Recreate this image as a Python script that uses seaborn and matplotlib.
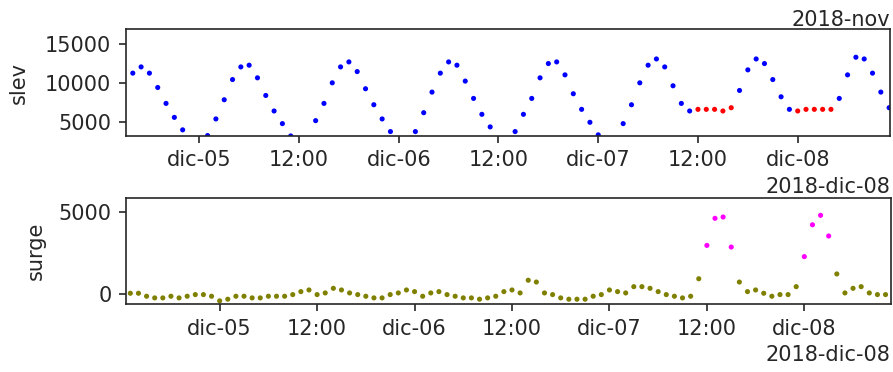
import numpy as np
import pandas as pd
import matplotlib
matplotlib.use("Agg")
import matplotlib.pyplot as plt
import seaborn as sns

# Hourly sea level (slev) and storm surge series
slev_start = "2018-12-04 16:00"
slev = [11200, 12000, 11200, 9360, 7320, 5530, 3930, 2700, 2600, 3200,
        5330, 7790, 10380, 12000, 12220, 10600, 8340, 6350, 4730, 3150,
        2650, 2750, 5110, 7320, 9960, 12000, 12640, 11400, 9200, 7150,
        5330, 3710, 2750, 2800, 3710, 6130, 8770, 11200, 12640, 12220,
        10180, 7960, 5920, 4310, 2800, 2750, 3710, 5920, 7960, 10600,
        12430, 12640, 10980, 8560, 6560, 4900, 3290, 2700, 2750, 4730,
        7150, 9960, 12220, 13020, 12000, 9580, 7320, 6350, 6560, 6560,
        6560, 6350, 6770, 8980, 11620, 13020, 12430, 10380, 8170, 6560,
        6350, 6560, 6560, 6560, 6560, 7960, 10980, 13240, 13020, 11200,
        8770, 6770]
# 1 = flagged value
slev_flag = [0] * 68 + [1] * 5 + [0] * 7 + [1] * 5 + [0] * 7

surge_start = "2018-12-04 13:00"
surge = [60, 60, -120, -220, -220, -120, -220, -120, -20, -20,
         -120, -400, -300, -120, -120, -220, -220, -120, -120, -120,
         -20, 160, 260, -20, 80, 360, 260, 80, -20, -120,
         -220, -220, -20, 80, 260, 160, -120, 80, 160, -20,
         -120, -220, -220, -300, -220, -120, 160, 260, 80, 850,
         740, 80, -20, -220, -300, -300, -300, -120, -20, 260,
         160, 80, 460, 460, 360, 160, -20, -120, -220, -120,
         940, 2960, 4600, 4680, 2860, 740, 160, 260, 60, -120,
         -20, -20, 460, 2280, 4210, 4780, 3530, 1230, 80, 360,
         460, 80, -20, -20]
surge_flag = [0] * 71 + [1] * 4 + [0] * 8 + [1] * 4 + [0] * 7

tick_times = ["2018-12-05 00:00", "2018-12-05 12:00", "2018-12-06 00:00",
              "2018-12-06 12:00", "2018-12-07 00:00", "2018-12-07 12:00",
              "2018-12-08 00:00"]
tick_labels = ["dic-05", "12:00", "dic-06", "12:00", "dic-07", "12:00", "dic-08"]

slev_df = pd.DataFrame({
    "time": pd.date_range(slev_start, periods=len(slev), freq="h"),
    "slev": slev,
    "flag": slev_flag,
})
surge_df = pd.DataFrame({
    "time": pd.date_range(surge_start, periods=len(surge), freq="h"),
    "surge": surge,
    "flag": surge_flag,
})

sns.set_style("ticks")
plt.rcParams["font.family"] = ["DejaVu Sans"]
plt.rcParams["font.size"] = 10

fig = plt.figure(figsize=(893 / 150, 372 / 150), dpi=150)
ax1 = fig.add_axes([0.1411, 0.6352, 0.8555, 0.2860])
ax2 = fig.add_axes([0.1411, 0.1828, 0.8563, 0.2858])

sns.scatterplot(data=slev_df, x="time", y="slev", hue="flag",
                palette={0: "#0000ff", 1: "#ff0000"}, s=6, linewidth=0,
                legend=False, ax=ax1)
sns.scatterplot(data=surge_df, x="time", y="surge", hue="flag",
                palette={0: "#808000", 1: "#ff00ff"}, s=6, linewidth=0,
                legend=False, ax=ax2)

ticks = pd.to_datetime(tick_times)
for ax in (ax1, ax2):
    ax.set_xticks(ticks, labels=tick_labels)
    ax.xaxis.get_major_formatter().set_offset_string("2018-dic-08")
    ax.set_xlabel("")
    for side in ("top", "right"):
        ax.spines[side].set_visible(True)

ax1.set_ylabel("slev", labelpad=8)
ax2.set_ylabel("surge", labelpad=6)

ax1.set_xlim(pd.Timestamp("2018-12-04 15:11"), pd.Timestamp("2018-12-08 11:06"))
ax2.set_xlim(pd.Timestamp("2018-12-04 12:28"), pd.Timestamp("2018-12-08 10:38"))
ax1.set_ylim(3180, 16820)
ax1.set_yticks([5000, 10000, 15000])
ax2.set_ylim(-590, 5850)
ax2.set_yticks([0, 5000])

ax1.annotate("2018-nov", xy=(1, 1), xycoords="axes fraction",
             xytext=(0, 1.5), textcoords="offset points",
             ha="right", va="baseline")

fig.savefig("out.png", dpi=150)
